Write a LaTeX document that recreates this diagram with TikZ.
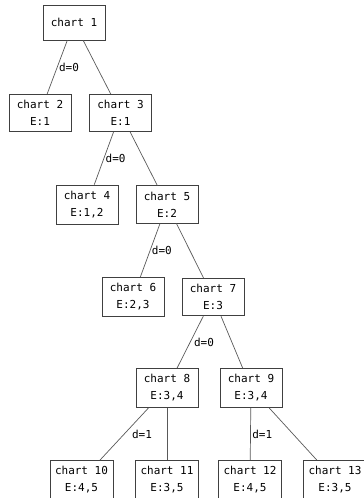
\documentclass[tikz,border=0pt]{standalone}
\usepackage{fontspec}
\setmonofont{DejaVu Sans Mono}
\usetikzlibrary{positioning}

\begin{document}
\begin{tikzpicture}[
    x=1pt, y=-1pt,
    chart/.style={draw=black!75, line width=0.8pt, minimum width=62pt, minimum height=35pt,
        inner xsep=5pt, inner ysep=6pt, align=center,
        font=\ttfamily\fontsize{11}{17}\selectfont},
    ln/.style={draw=black!65, line width=0.7pt},
    lbl/.style={font=\ttfamily\fontsize{11}{12}\selectfont, anchor=west, inner sep=1.5pt}
]
\useasboundingbox (0,0) rectangle (364,498);

\node[chart] (ch1) at (74,22.5) {chart 1};
\node[chart] (ch2) at (40,113) {chart 2\\E:1};
\node[chart] (ch3) at (120.5,113) {chart 3\\E:1};
\node[chart] (ch4) at (87,204.5) {chart 4\\E:1,2};
\node[chart] (ch5) at (167,204.5) {chart 5\\E:2};
\node[chart] (ch6) at (133,297) {chart 6\\E:2,3};
\node[chart] (ch7) at (213,297) {chart 7\\E:3};
\node[chart] (ch8) at (167,388) {chart 8\\E:3,4};
\node[chart] (ch9) at (251,388) {chart 9\\E:3,4};
\node[chart] (ch10) at (81.5,480) {chart 10\\E:4,5};
\node[chart] (ch11) at (167,480) {chart 11\\E:3,5};
\node[chart] (ch12) at (250,480) {chart 12\\E:4,5};
\node[chart] (ch13) at (335,480) {chart 13\\E:3,5};

\draw[ln] (ch1) -- node[lbl] {d=0} (ch2);
\draw[ln] (ch1) -- (ch3);
\draw[ln] (ch3) -- node[lbl] {d=0} (ch4);
\draw[ln] (ch3) -- (ch5);
\draw[ln] (ch5) -- node[lbl] {d=0} (ch6);
\draw[ln] (ch5) -- (ch7);
\draw[ln] (ch7) -- node[lbl, xshift=2pt] {d=0} (ch8);
\draw[ln] (ch7) -- (ch9);
\draw[ln] (ch8) -- node[lbl, xshift=6pt] {d=1} (ch10);
\draw[ln] (ch8) -- (ch11);
\draw[ln] (ch9) -- node[lbl] {d=1} (ch12);
\draw[ln] (ch9) -- (ch13);
\end{tikzpicture}
\end{document}
